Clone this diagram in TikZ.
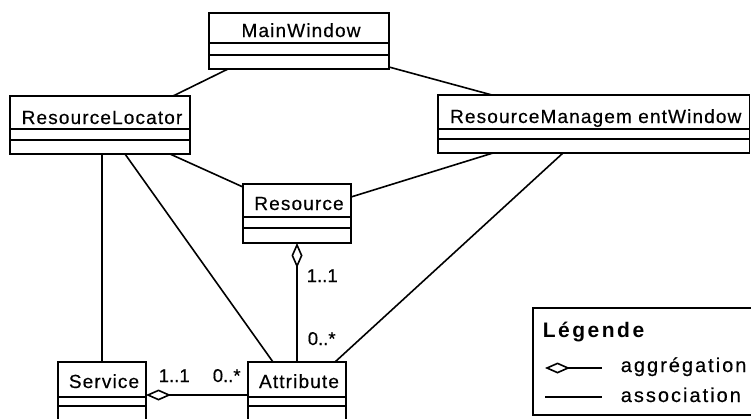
\documentclass[tikz,border=0pt]{standalone}
\usepackage{fontspec}
\setmainfont{Liberation Sans}
\usetikzlibrary{arrows.meta}

% A UML class box: name, x1, y1, x2, y2, first divider, second divider, label, label baseline
\newcommand\umlclass[9]{%
  \node[classbox, minimum width={(#4)-(#2)}, minimum height={(#5)-(#3)}]
    (#1) at ({(#2+#4)/2},{(#3+#5)/2}) {};
  \draw (#2,#6) -- (#4,#6);
  \draw (#2,#7) -- (#4,#7);
  \node[classname] (#1-name) at ({(#2+#4)/2+2},#9) {#8};
}

\begin{document}
\begin{tikzpicture}[x=1pt, y=-1pt, line width=1.6pt,
  classbox/.style={draw, rectangle, inner sep=0pt, outer sep=0pt},
  classname/.style={anchor=base, inner sep=0pt,
    font=\fontsize{19pt}{21pt}\selectfont\addfontfeature{LetterSpace=6,FakeBold=0.4}},
  mult/.style={anchor=base west, inner sep=0pt,
    font=\fontsize{18.5pt}{20pt}\selectfont\addfontfeature{FakeBold=0.4}},
  link/.style={draw, line width=1.6pt},
  aggr/.style={link, {Diamond[open, length=25pt, width=11pt]}-},
  legtitle/.style={anchor=base west, inner sep=0pt,
    font=\fontsize{21pt}{23pt}\selectfont\bfseries\addfontfeature{LetterSpace=12}},
  legtext/.style={anchor=base west, inner sep=0pt,
    font=\fontsize{20pt}{22pt}\selectfont\addfontfeature{LetterSpace=10,FakeBold=0.4}}]

  \fill[white] (0,0) rectangle (751,418);
  \useasboundingbox (0,0) rectangle (751,418);
  \clip (0,0) rectangle (751,418);

  % classes
  \umlclass{mw}{209}{13}{389}{69}{43}{55}{MainWindow}{37}
  \umlclass{rl}{10}{96}{190}{154}{129}{140}{ResourceLocator}{124}
  \umlclass{rmw}{438}{95}{749.5}{153}{129}{139}{ResourceManagem entWindow}{123}
  \umlclass{rs}{243}{184}{351}{243}{217}{228}{Resource}{210}
  \umlclass{sv}{58}{362}{146}{425}{397}{406}{Service}{388}
  \umlclass{at}{248}{362}{346}{425}{397}{406}{Attribute}{388}

  % associations
  \draw[link] ([xshift=19pt]mw.south west) -- ([xshift=163pt]rl.north west);
  \draw[link] ([yshift=2pt]mw.south east) -- ([xshift=54pt]rmw.north west);
  \draw[link] ([xshift=160pt]rl.south west) -- ([yshift=-3pt]rs.north west);
  \draw[link] ([yshift=-13pt]rs.north east) -- ([xshift=55pt]rmw.south west);
  \draw[link] (rl.south -| sv.north) -- (sv.north);
  \draw[link] ([xshift=115pt]rl.south west) -- ([xshift=25pt]at.north west);
  \draw[link] ([xshift=125pt]rmw.south west) -- ([xshift=87pt]at.north west);

  % aggregations
  \draw[aggr] (rs.south) -- (at.north);
  \draw[aggr] ([yshift=-33pt]sv.north east) -- ([yshift=-33pt]at.north west);

  % multiplicities
  \node[mult] (m1) at (306,282) {1..1};
  \node[mult] (m2) at (307,345) {0..*};
  \node[mult] (m3) at (158,382) {1..1};
  \node[mult] (m4) at (212,382) {0..*};

  % legend
  \node[classbox, minimum width=227, minimum height=107] (leg) at ({(533+760)/2},{(308+415)/2}) {};
  \node[legtitle] (legT) at (542,337) {Légende};
  \coordinate (a1) at (545,368);
  \coordinate (a2) at (602,368);
  \draw[aggr] (a1) -- (a2);
  \node[legtext] (legA) at (620,372) {aggrégation};
  \coordinate (b1) at (545,397);
  \coordinate (b2) at (602,397);
  \draw[link] (b1) -- (b2);
  \node[legtext] (legB) at (620,402) {association};
\end{tikzpicture}
\end{document}
